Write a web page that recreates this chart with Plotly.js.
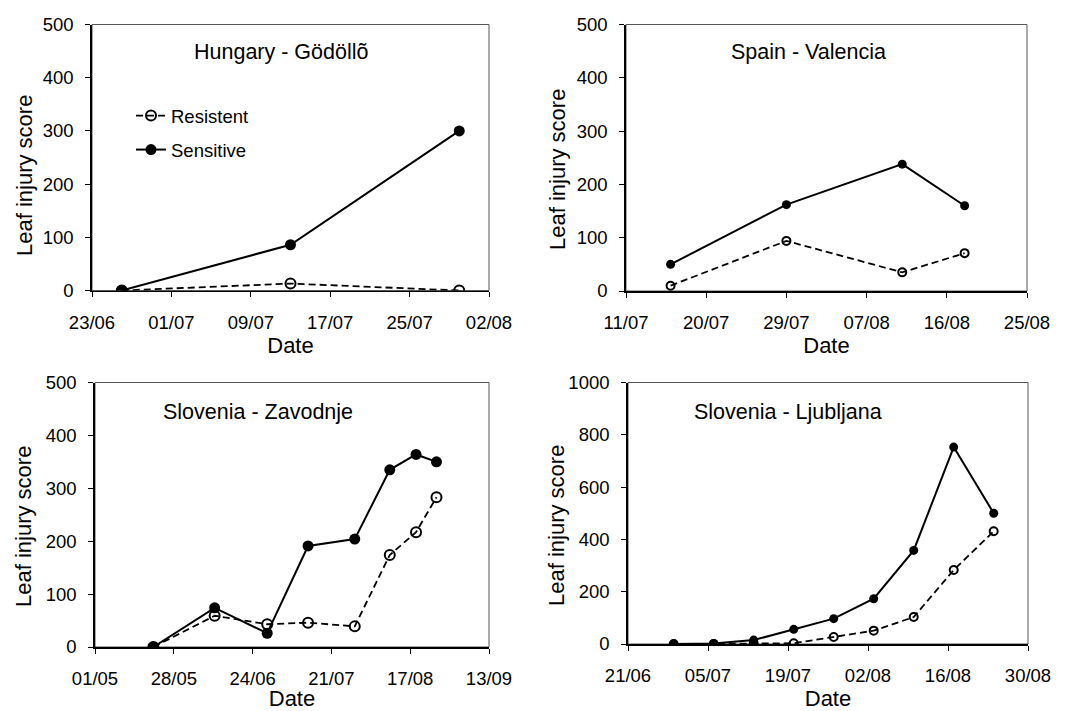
<!DOCTYPE html>
<html>
<head>
<meta charset="utf-8">
<script src="https://cdn.plot.ly/plotly-3.0.1.min.js"></script>
<style>
  html, body { margin: 0; padding: 0; background: #fff; }
  #chart { width: 1067px; height: 711px; }
</style>
</head>
<body>
<div id="chart"></div>
<script>
// ---- Data ----
const hungaryDates = ['2009-06-26', '2009-07-13', '2009-07-30'];
const hungaryResistent = [0, 13, 0];
const hungarySensitive = [0, 86, 300];

const spainDates = ['2009-07-16', '2009-07-29', '2009-08-11', '2009-08-18'];
const spainResistent = [10, 94, 35, 71];
const spainSensitive = [50, 162, 238, 160];

const zavodnjeDates = ['2009-05-21', '2009-06-11', '2009-06-29', '2009-07-13', '2009-07-29', '2009-08-10', '2009-08-19', '2009-08-26'];
const zavodnjeResistent = [0, 59, 43, 46, 39, 174, 217, 283];
const zavodnjeSensitive = [0, 74, 26, 191, 204, 335, 364, 350];

const ljubljanaDates = ['2009-06-29', '2009-07-06', '2009-07-13', '2009-07-20', '2009-07-27', '2009-08-03', '2009-08-10', '2009-08-17', '2009-08-24'];
const ljubljanaResistent = [0, 0, 2, 3, 27, 51, 103, 283, 431];
const ljubljanaSensitive = [0, 2, 15, 56, 97, 173, 358, 753, 500];

const panelTitles = ['Hungary - Gödöllõ', 'Spain - Valencia', 'Slovenia - Zavodnje', 'Slovenia - Ljubljana'];
const seriesNames = ['Resistent', 'Sensitive'];
const yTitle = 'Leaf injury score';
const xTitle = 'Date';

// ---- Build ----
const FONT = 'Liberation Sans, Arial, sans-serif';
const DAY = 86400000;

const panels = [
  {dates: hungaryDates, res: hungaryResistent, sens: hungarySensitive, ms: 11, xr: ['2009-06-23', '2009-08-02'], dtick: 8, yr: [0, 500], ydt: 100},
  {dates: spainDates, res: spainResistent, sens: spainSensitive, ms: 9, xr: ['2009-07-11', '2009-08-25'], dtick: 9, yr: [0, 500], ydt: 100},
  {dates: zavodnjeDates, res: zavodnjeResistent, sens: zavodnjeSensitive, ms: 11, xr: ['2009-05-01', '2009-09-13'], dtick: 27, yr: [0, 500], ydt: 100},
  {dates: ljubljanaDates, res: ljubljanaResistent, sens: ljubljanaSensitive, ms: 9, xr: ['2009-06-21', '2009-08-30'], dtick: 14, yr: [0, 1000], ydt: 200}
];

const W = 1067, H = 711;
// plot-area pixel boxes [left, right, top, bottom]
const boxes = [
  [92, 489, 24.5, 290.5],
  [626, 1027, 24.5, 291],
  [95, 489, 382.5, 647],
  [628, 1028, 382.5, 644]
];

const traces = [];
const layout = {
  width: W, height: H,
  margin: {l: 0, r: 0, t: 0, b: 0},
  paper_bgcolor: '#ffffff',
  plot_bgcolor: '#ffffff',
  font: {family: FONT, color: '#000', size: 18},
  showlegend: true,
  legend: {
    x: 131 / W, y: 1 - 97 / H, xanchor: 'left', yanchor: 'top',
    bgcolor: 'rgba(0,0,0,0)', borderwidth: 0,
    font: {family: FONT, size: 18.5, color: '#000'},
    traceorder: 'grouped', tracegroupgap: 7
  },
  annotations: [],
  shapes: []
};

panels.forEach((p, i) => {
  const n = i + 1;
  const xa = n === 1 ? 'x' : 'x' + n;
  const ya = n === 1 ? 'y' : 'y' + n;
  const b = boxes[i];
  traces.push({
    type: 'scatter', mode: 'lines+markers', x: p.dates, y: p.res,
    name: seriesNames[0], xaxis: xa, yaxis: ya,
    legendgroup: 'r', showlegend: i === 0,
    line: {color: '#000', width: 1.8, dash: '7px,4px'},
    marker: {symbol: 'circle-open', size: p.ms - 1, color: '#000', line: {width: 2, color: '#000'}}
  });
  traces.push({
    type: 'scatter', mode: 'lines+markers', x: p.dates, y: p.sens,
    name: seriesNames[1], xaxis: xa, yaxis: ya,
    legendgroup: 's', showlegend: i === 0,
    line: {color: '#000', width: 2},
    marker: {symbol: 'circle', size: p.ms, color: '#000'}
  });
  const xKey = n === 1 ? 'xaxis' : 'xaxis' + n;
  const yKey = n === 1 ? 'yaxis' : 'yaxis' + n;
  layout[xKey] = {
    domain: [b[0] / W, b[1] / W],
    anchor: ya, type: 'date', range: p.xr,
    tick0: p.xr[0], dtick: p.dtick * DAY, tickformat: '%d/%m',
    ticks: 'outside', ticklen: 5, tickwidth: 1, tickcolor: '#000',
    showline: true, linecolor: '#000', linewidth: 1.8,
    showgrid: false, zeroline: false,
    tickfont: {family: FONT, size: 18.5, color: '#000'},
    ticklabelstandoff: 9,
    title: {text: xTitle, font: {family: FONT, size: 22, color: '#000'}, standoff: 4},
    fixedrange: true
  };
  layout[yKey] = {
    domain: [1 - b[3] / H, 1 - b[2] / H],
    anchor: xa, range: p.yr, dtick: p.ydt, tick0: 0,
    ticks: 'outside', ticklen: 5, tickwidth: 1, tickcolor: '#000',
    showline: true, linecolor: '#000', linewidth: 1.8,
    showgrid: false, zeroline: false,
    tickfont: {family: FONT, size: 18.5, color: '#000'},
    ticklabelstandoff: 8,
    fixedrange: true
  };
  // plot-area border (top/right)
  layout.shapes.push({
    type: 'rect', xref: xa + ' domain', yref: ya + ' domain',
    x0: 0, x1: 1, y0: 0, y1: 1, layer: 'below',
    line: {color: '#555', width: 1}
  });
  // panel title
  const titlePos = [[281, 52], [808, 52], [258, 412], [788, 412]][i];
  layout.annotations.push({
    text: panelTitles[i], xref: 'paper', yref: 'paper',
    x: titlePos[0] / W, y: 1 - titlePos[1] / H, xanchor: 'center', yanchor: 'middle',
    showarrow: false, font: {family: FONT, size: 21.5, color: '#000'}
  });
  // y-axis title
  const yt = [[24, 176], [557, 170], [23, 527], [556, 526]][i];
  layout.annotations.push({
    text: yTitle, xref: 'paper', yref: 'paper', textangle: -90,
    x: yt[0] / W, y: 1 - yt[1] / H, xanchor: 'center', yanchor: 'middle',
    showarrow: false, font: {family: FONT, size: 22, color: '#000'}
  });
});

Plotly.newPlot('chart', traces, layout, {staticPlot: true, displayModeBar: false});
</script>
</body>
</html>
